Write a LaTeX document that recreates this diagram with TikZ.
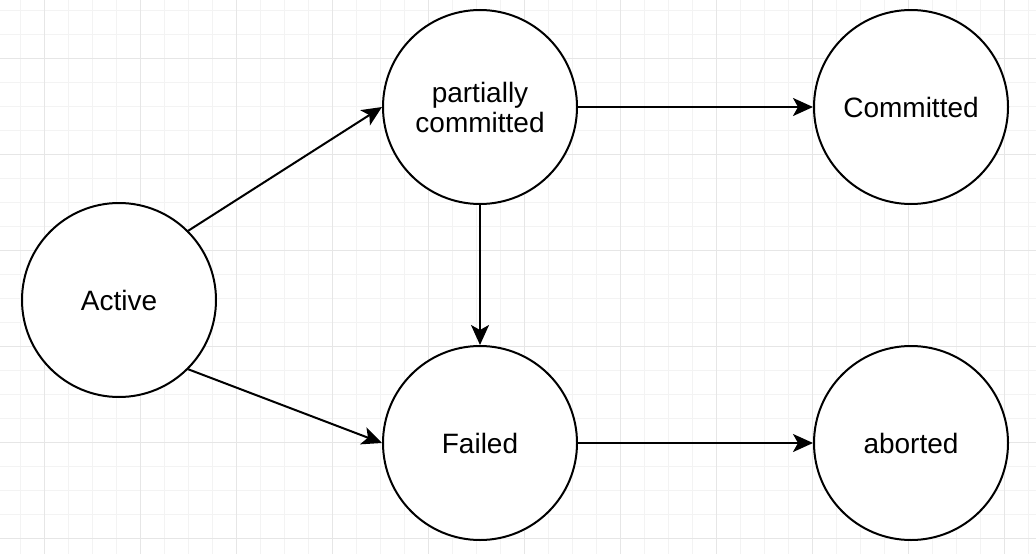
\documentclass[tikz,border=0pt]{standalone}
\usepackage{fontspec}
\setmainfont{Liberation Sans}
\usetikzlibrary{arrows.meta}
\definecolor{gridminor}{HTML}{F3F3F3}
\definecolor{gridmajor}{HTML}{E6E6E6}
\tikzset{
  state/.style={circle, draw=black, line width=2pt, fill=white, minimum size=194pt, inner sep=0pt,
    font=\fontsize{28}{30}\selectfont, align=center},
  arr/.style={line width=2pt, -{Stealth[length=20pt,width=18pt,inset=5pt]}},
}
\begin{document}
\begin{tikzpicture}[x=1pt,y=-1pt]
\useasboundingbox (0,0) rectangle (1036,554);
\fill[white] (0,0) rectangle (1036,554);
% minor grid
\foreach \i in {0,...,42} {\draw[gridminor, line width=1pt] (20.7+24*\i,0) -- (20.7+24*\i,554);}
\foreach \j in {0,...,22} {\draw[gridminor, line width=1pt] (0,10.3+24*\j) -- (1036,10.3+24*\j);}
% major grid
\foreach \i in {0,...,10} {\draw[gridmajor, line width=1pt] (44.7+96*\i,0) -- (44.7+96*\i,554);}
\foreach \j in {0,...,5} {\draw[gridmajor, line width=1pt] (0,58.3+96*\j) -- (1036,58.3+96*\j);}
% states
\node[state] (act) at (119,300) {Active};
\node[state] (pc)  at (480,107) {partially\\committed};
\node[state] (com) at (911,107) {Committed};
\node[state] (fail) at (480,443) {Failed};
\node[state] (abt) at (911,443) {aborted};
% transitions
\draw[arr] (act.45) -- (pc.west);
\draw[arr] (act.-45) -- (fail.west);
\draw[arr] (pc.south) -- (fail.north);
\draw[arr] (pc.east) -- (com.west);
\draw[arr] (fail.east) -- (abt.west);
\end{tikzpicture}
\end{document}
